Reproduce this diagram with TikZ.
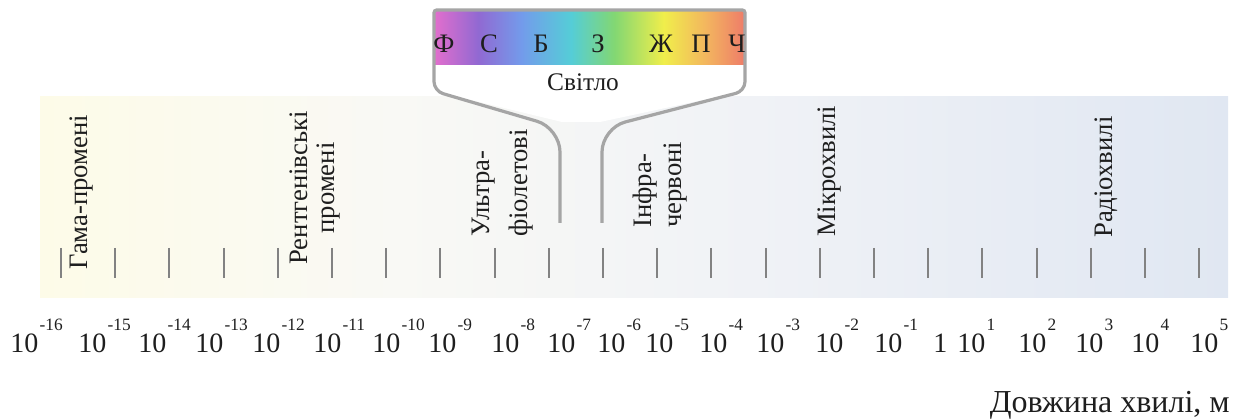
\documentclass[tikz,border=0pt]{standalone}
\usepackage{fontspec}
\setmainfont{Liberation Serif}
\definecolor{inkdark}{RGB}{30,30,30}
\definecolor{tickgray}{RGB}{130,130,130}
\definecolor{edgegray}{RGB}{165,165,165}
\definecolor{specpink}{RGB}{225,110,205}
\definecolor{specviolet}{RGB}{145,105,210}
\definecolor{specblue}{RGB}{115,155,235}
\definecolor{speccyan}{RGB}{85,205,215}
\definecolor{specgreen}{RGB}{130,215,115}
\definecolor{specyellow}{RGB}{240,238,75}
\definecolor{specorange}{RGB}{243,180,95}
\definecolor{specred}{RGB}{238,125,105}
\definecolor{bandyellow}{RGB}{253,251,232}
\definecolor{bandwhite}{RGB}{249,249,245}
\definecolor{bandgray}{RGB}{240,242,246}
\definecolor{bandblue}{RGB}{224,231,242}
\usetikzlibrary{positioning}
\pgfdeclarehorizontalshading{spectrum}{100bp}{color(0bp)=(specpink); color(25bp)=(specpink);
  color(32bp)=(specviolet); color(39bp)=(specblue); color(47bp)=(speccyan);
  color(54bp)=(specgreen); color(62bp)=(specyellow); color(69bp)=(specorange);
  color(75bp)=(specred); color(100bp)=(specred)}
\pgfdeclarehorizontalshading{bandbg}{100bp}{color(0bp)=(bandyellow); color(25bp)=(bandyellow);
  color(40bp)=(bandwhite); color(55bp)=(bandgray); color(75bp)=(bandblue); color(100bp)=(bandblue)}
\begin{document}
\begin{tikzpicture}[x=0.75pt, y=-0.75pt,
    every node/.style={inner sep=0pt, text=inkdark},
    bandlbl/.style={rotate=90, font=\fontsize{20}{20}\selectfont, align=left},
    numlbl/.style={font=\fontsize{21}{25}\selectfont, anchor=base west},
    letterlbl/.style={font=\fontsize{20}{22}\selectfont, anchor=base},
    tickmark/.style={draw=tickgray, line width=1.5pt},
    funneledge/.style={draw=edgegray, line width=2.4pt}]
  \def\supfont{\fontsize{13}{15}\selectfont}
  \useasboundingbox (0,0) rectangle (1236,420);
  \fill[shading=bandbg] (40,97) rectangle (1228,298);
  \foreach \i in {0,...,21}
    \draw[tickmark] (61+54.2*\i,248) -- (61+54.2*\i,278);
  \fill[white] (434,91) [rounded corners=2pt] -- (434,10) -- (745,10) -- (745,91)
    [sharp corners] -- (600,122) -- (562,122) -- cycle;
  \fill[shading=spectrum] (435,11) rectangle (744,65);
  \draw[funneledge] (560,223) [rounded corners=18pt] -- (560,128) [rounded corners=7pt] -- (434,91)
    [rounded corners=2pt] -- (434,10) -- (745,10) [rounded corners=7pt] -- (745,91)
    [rounded corners=18pt] -- (602,128) [sharp corners] -- (602,223);
  \foreach \x/\ltr/\nm in {444/Ф/f,489/С/s,541/Б/b,598/З/z,661/Ж/zh,701/П/p,737/Ч/ch}
    \node[letterlbl] (col-\nm) at (\x,53) {\ltr};
  \node[letterlbl, font=\fontsize{19}{21}\selectfont] (light) at (583,91) {Світло};
  \node[bandlbl, anchor=north west] (gamma) at (70,270) {Гама-промені};
  \node[bandlbl, anchor=north, align=center] (xray) at (290,188) {Рентгенівські\\промені};
  \node[bandlbl, anchor=north west] (uv) at (472,237) {Ультра-\\[8.5pt]фіолетові};
  \node[bandlbl, anchor=north west] (ir) at (633,228) {Інфра-\\[2pt]червоні};
  \node[bandlbl, anchor=north west] (micro) at (818,237) {Мікрохвилі};
  \node[bandlbl, anchor=north west] (radio) at (1095,238) {Радіохвилі};
  \foreach \x/\pw [count=\k] in {10/-16,78/-15,138/-14,195/-13,252/-12,313/-11,372/-10,428/-9,
      491/-8,547/-7,597/-6,645/-5,699/-4,756/-3,815/-2,874/-1,957/1,1018/2,1075/3,1131/4,1190/5}
    \node[numlbl] (pow\k) at (\x,353) {10\kern1pt\raisebox{16.5pt}{\supfont\pw}};
  \node[numlbl] (one) at (933,353) {1};
  \node[font=\fontsize{24}{28}\selectfont, anchor=base east] (axis) at (1230,412) {Довжина хвилі, м};
\end{tikzpicture}
\end{document}
